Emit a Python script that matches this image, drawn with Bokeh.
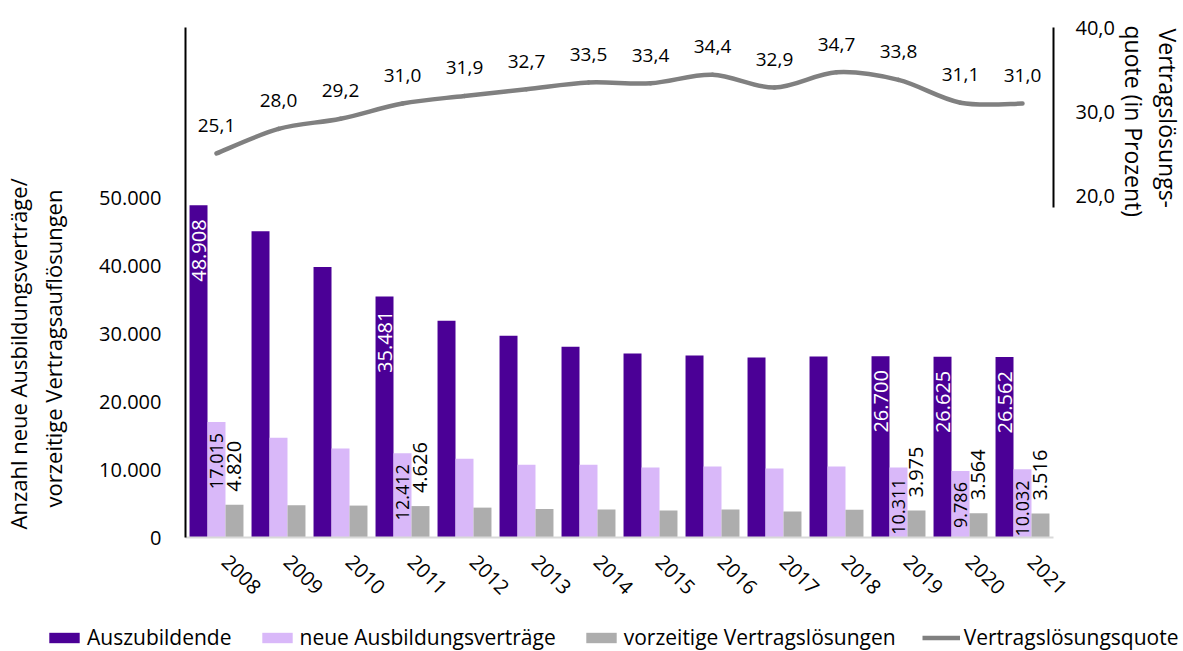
import numpy as np
from bokeh.plotting import figure
from bokeh.models import (Range1d, LinearAxis, FixedTicker, ColumnDataSource,
                          Legend, LegendItem, Title)
from bokeh.embed import file_html
from bokeh.resources import INLINE
from bokeh.core.properties import value

# ---------------- data ----------------
years = ["2008", "2009", "2010", "2011", "2012", "2013", "2014",
         "2015", "2016", "2017", "2018", "2019", "2020", "2021"]
auszubildende = [48908, 45100, 39850, 35481, 31900, 29700, 28100,
                 27100, 26800, 26500, 26650, 26700, 26625, 26562]
neue_vertraege = [17015, 14700, 13100, 12412, 11600, 10700, 10700,
                  10300, 10450, 10150, 10450, 10311, 9786, 10032]
vorzeitige = [4820, 4750, 4700, 4626, 4400, 4200, 4120,
              3980, 4120, 3830, 4100, 3975, 3564, 3516]
quote = [25.1, 28.0, 29.2, 31.0, 31.9, 32.7, 33.5,
         33.4, 34.4, 32.9, 34.7, 33.8, 31.1, 31.0]
labelled_years = ["2008", "2011", "2019", "2020", "2021"]
left_ticks = [0, 10000, 20000, 30000, 40000, 50000]
left_tick_labels = ["0", "10.000", "20.000", "30.000", "40.000", "50.000"]
right_ticks = [20, 30, 40]
right_tick_labels = ["20,0", "30,0", "40,0"]
left_title = ["Anzahl neue Ausbildungsverträge/", "vorzeitige Vertragsauflösungen"]
right_title = ["Vertragslösungs-", "quote (in Prozent)"]
legend_labels = ["Auszubildende", "neue Ausbildungsverträge",
                 "vorzeitige Vertragslösungen", "Vertragslösungsquote"]

# ---------------- style ----------------
FONT = "Open Sans"
FS = "20px"
FS_NEU = "18px"
FS_LINE = "19px"
FS_TITLE = "22px"
FS_RTITLE = "23px"
FS_LEG = "21px"
C_AZ = "#4B0096"
C_NEU = "#D9B8F9"
C_VOR = "#ADADAD"
C_LINE = "#808080"

n = len(years)
xs = np.arange(n) + 0.5
bw = 0.29
CAT_PX = 62


def de_int(v):
    return f"{v:,}".replace(",", ".")


def de_dec(v):
    return f"{v:.1f}".replace(".", ",")


p = figure(frame_width=868, frame_height=510, x_range=Range1d(0, n), y_range=Range1d(0, 75100),
           output_backend="svg", toolbar_location=None,
           min_border_left=185, min_border_right=130, min_border_top=27, min_border_bottom=80)
p.extra_y_ranges = {"quote": Range1d(-20.36, 40)}
p.grid.visible = False
p.outline_line_color = None
p.background_fill_color = "white"
p.border_fill_color = "white"

# bars
p.vbar(x=xs - bw, width=bw, top=auszubildende, fill_color=C_AZ, line_color=None)
p.vbar(x=xs, width=bw, top=neue_vertraege, fill_color=C_NEU, line_color=None)
p.vbar(x=xs + bw, width=bw, top=vorzeitige, fill_color=C_VOR, line_color=None)

# bar labels
idx = [years.index(y) for y in labelled_years]
src_lab = ColumnDataSource(dict(
    x=[xs[i] for i in idx],
    az=[auszubildende[i] for i in idx],
    neu=[neue_vertraege[i] for i in idx],
    vor=[vorzeitige[i] for i in idx],
    az_t=[de_int(auszubildende[i]) for i in idx],
    neu_t=[de_int(neue_vertraege[i]) for i in idx],
    vor_t=[de_int(vorzeitige[i]) for i in idx],
))
common = dict(angle=np.pi / 2, text_font=value(FONT), text_baseline="middle")
p.text(x="x", y="az", text="az_t", source=src_lab, x_offset=-bw * CAT_PX, text_align="right",
       y_offset=14, text_color="white", text_font_size=FS, **common)
p.text(x="x", y="neu", text="neu_t", source=src_lab, text_align="right",
       y_offset=11, text_color="black", text_font_size=FS_NEU, **common)
p.text(x="x", y="vor", text="vor_t", source=src_lab, x_offset=bw * CAT_PX, text_align="left",
       y_offset=-13, text_color="black", text_font_size=FS, **common)

# smoothed quote line (Bezier through the data points)
q = np.array(quote)
xp = np.concatenate([[xs[0]], xs, [xs[-1]]])
qp = np.concatenate([[q[0]], q, [q[-1]]])
t = 1.0 / 6.0
bz = dict(x0=xs[:-1], y0=q[:-1], x1=xs[1:], y1=q[1:],
          cx0=xs[:-1] + (xp[2:-1] - xp[:-3]) * t, cy0=q[:-1] + (qp[2:-1] - qp[:-3]) * t,
          cx1=xs[1:] - (xp[3:] - xp[1:-2]) * t, cy1=q[1:] - (qp[3:] - qp[1:-2]) * t)
p.bezier(source=ColumnDataSource(bz), x0="x0", y0="y0", x1="x1", y1="y1",
         cx0="cx0", cy0="cy0", cx1="cx1", cy1="cy1", y_range_name="quote",
         line_color=C_LINE, line_width=4.5, line_cap="round")
p.text(x=xs, y=quote, text=[de_dec(v) for v in quote], y_range_name="quote",
       text_align="center", text_baseline="middle", y_offset=-28,
       text_font=value(FONT), text_font_size=FS_LINE, text_color="black")

# x axis
xa = p.xaxis[0]
xa.ticker = FixedTicker(ticks=list(xs + 0.14))
xa.major_label_overrides = {float(x): y for x, y in zip(xs + 0.14, years)}
xa.major_label_orientation = -np.pi / 4
xa.axis_line_color = "#D9D9D9"
xa.axis_line_width = 2
xa.major_tick_line_color = None
xa.minor_tick_line_color = None
xa.major_label_standoff = 15
xa.major_label_text_font = FONT
xa.major_label_text_font_size = FS
xa.major_label_text_color = "black"

# left axis
ya = p.yaxis[0]
ya.ticker = FixedTicker(ticks=left_ticks)
ya.major_label_overrides = dict(zip(left_ticks, left_tick_labels))
ya.axis_line_color = "black"
ya.axis_line_width = 2
ya.major_tick_line_color = None
ya.minor_tick_line_color = None
ya.major_label_standoff = 18
ya.major_label_text_font = FONT
ya.major_label_text_font_size = FS
ya.major_label_text_color = "black"
ya.axis_label = " "
ya.axis_label_text_font_size = "1px"
ya.axis_label_standoff = 20

# right axis (quote)
yr = LinearAxis(y_range_name="quote", ticker=FixedTicker(ticks=right_ticks), bounds=(18.7, 40))
yr.major_label_overrides = dict(zip(right_ticks, right_tick_labels))
yr.axis_line_color = "black"
yr.axis_line_width = 2
yr.major_tick_line_color = None
yr.minor_tick_line_color = None
yr.major_label_standoff = 16
yr.major_label_text_font = FONT
yr.major_label_text_font_size = FS
yr.major_label_text_color = "black"
p.add_layout(yr, "right")

# axis titles as side-panel titles
tl = dict(text_font=FONT, text_font_size=FS_TITLE, text_font_style="normal",
          text_color="black", align="left")
tr = dict(text_font=FONT, text_font_size=FS_RTITLE, text_font_style="normal",
          text_color="black", align="left")
p.add_layout(Title(text=left_title[1], offset=30, standoff=7, **tl), "left")
p.add_layout(Title(text=left_title[0], offset=8, standoff=0, **tl), "left")
p.add_layout(Title(text=right_title[1], offset=-2, standoff=0, **tr), "right")
p.add_layout(Title(text=right_title[0], offset=1, standoff=0, **tr), "right")

# legend strip (separate small figure, its own root, below the chart)
lg = figure(width=1183, height=34, x_range=Range1d(0, 1), y_range=Range1d(0, 1),
            output_backend="svg", toolbar_location=None, min_border=0)
lg.axis.visible = False
lg.grid.visible = False
lg.outline_line_color = None
lg.background_fill_color = "white"
lg.border_fill_color = "white"
nan = [float("nan")]
lr_az = lg.vbar(x=nan, top=nan, width=1, fill_color=C_AZ, line_color=None)
lr_neu = lg.vbar(x=nan, top=nan, width=1, fill_color=C_NEU, line_color=None)
lr_vor = lg.vbar(x=nan, top=nan, width=1, fill_color=C_VOR, line_color=None)
lr_line = lg.line(x=nan, y=nan, line_color=C_LINE, line_width=4.5)
legend = Legend(items=[LegendItem(label=lab, renderers=[r]) for lab, r in
                       zip(legend_labels, [lr_az, lr_neu, lr_vor, lr_line])],
                orientation="horizontal", location=(45, 0), spacing=26,
                glyph_width=38, glyph_height=13, label_standoff=4, padding=0, margin=0,
                border_line_color=None, background_fill_alpha=0,
                label_text_font=FONT, label_text_font_size=FS_LEG, label_text_color="black")
lg.add_layout(legend, "center")

open("out.html", "w").write(file_html([p, lg], INLINE))
